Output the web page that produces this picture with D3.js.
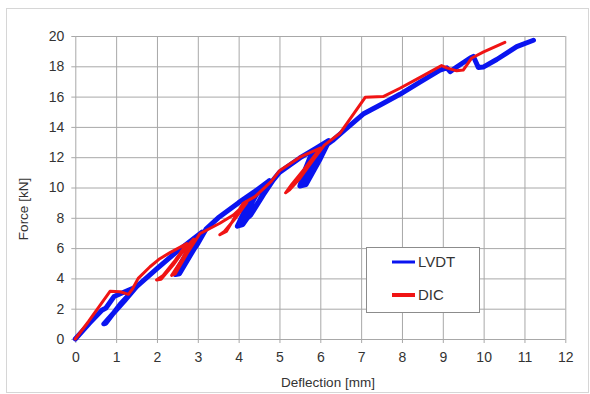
<!DOCTYPE html>
<html><head><meta charset="utf-8">
<script src="https://cdn.jsdelivr.net/npm/d3@7"></script>
<style>body{margin:0;background:#fff}svg{display:block;font-family:"Liberation Sans",Arial,sans-serif}</style>
</head><body><svg id="c" width="590" height="394"></svg>
<script>
const xTicks = [0,1,2,3,4,5,6,7,8,9,10,11,12];
const yTicks = [0,2,4,6,8,10,12,14,16,18,20];
const seriesNames = ["LVDT","DIC"];
const seriesColors = ["#0a14f0","#f01414"];
// LVDT: deflection [mm], force [kN] (with unload/reload loops)
const lvdtX = [0,0.35,0.65,0.75,0.95,1.2,1.5,1.2,0.9,0.7,0.75,1.1,1.5,2.0,2.5,3.1,2.75,2.6,2.45,2.55,2.9,3.1,2.8,2.5,2.6,3.0,3.2,3.5,4.0,4.4,4.75,4.3,4.1,3.97,4.1,4.5,4.75,4.45,4.2,4.05,4.3,4.6,4.85,5.0,5.5,5.9,6.2,5.75,5.6,5.5,5.65,6.0,6.2,5.95,5.7,5.6,5.85,6.1,6.3,6.6,7.05,7.5,7.95,8.44,8.93,9.1,9.18,9.34,9.67,9.75,9.87,9.99,10.32,10.81,11.22];
const lvdtY = [0,1.05,1.9,2.05,2.8,3.1,3.45,2.5,1.6,1.0,1.05,2.3,3.45,4.65,5.8,7.05,5.6,4.9,4.25,4.3,5.9,7.0,6.0,4.6,4.7,6.3,7.25,8.0,9.0,9.75,10.45,9.4,8.2,7.45,7.55,9.1,10.4,9.6,8.4,7.6,8.2,9.5,10.5,11.0,11.95,12.6,13.1,12.0,11.0,10.1,10.2,11.9,13.0,12.4,11.2,10.4,11.5,12.7,13.1,13.8,14.85,15.5,16.15,16.95,17.75,17.9,17.65,17.95,18.55,18.65,17.92,17.95,18.45,19.3,19.72];
// DIC
const dicX = [0,0.32,0.85,1.1,1.3,1.4,1.54,1.83,2.07,2.32,2.73,2.45,2.15,1.99,2.1,2.4,2.7,2.9,2.6,2.36,2.45,2.75,3.05,3.54,3.87,4.2,3.9,3.65,3.54,3.7,4.11,4.4,4.8,5.0,5.5,6.0,5.6,5.3,5.15,5.25,5.5,5.85,6.1,6.48,7.1,7.54,7.95,8.5,8.97,9.1,9.34,9.5,9.71,10.0,10.52];
const dicY = [0,1.14,3.15,3.12,2.95,3.3,4.0,4.77,5.3,5.7,6.3,5.2,4.2,3.9,3.95,4.9,6.0,6.6,5.2,4.2,4.3,5.7,6.95,7.64,8.18,9.0,7.9,7.1,6.88,7.1,8.96,9.4,10.4,11.1,12.0,12.6,11.2,10.2,9.65,9.85,10.6,11.9,12.8,13.58,15.95,16.0,16.55,17.35,18.05,17.9,17.7,17.75,18.55,18.95,19.58];

const svg = d3.select("#c");
const x = d3.scaleLinear().domain([0,12]).range([75.3,565.3]);
const y = d3.scaleLinear().domain([0,20]).range([339,36]);
const gridCol = "#a8a8a8", txtCol = "#333";

svg.append("rect").attr("x",6.5).attr("y",8.5).attr("width",582).attr("height",384)
  .attr("fill","#fff").attr("stroke","#d6d6d6");

// grid
const gx = svg.append("g").attr("transform",`translate(0,${y(0)})`)
  .call(d3.axisBottom(x).tickValues(xTicks).tickSize(-(y(0)-y(20))).tickFormat(""));
gx.selectAll("line").attr("stroke",gridCol);
gx.select(".domain").remove();
const gy = svg.append("g").attr("transform",`translate(${x(0)},0)`)
  .call(d3.axisLeft(y).tickValues(yTicks).tickSize(-(x(12)-x(0))).tickFormat(""));
gy.selectAll("line").attr("stroke",gridCol);
gy.select(".domain").remove();

// axes with small outward ticks and labels
const ax = svg.append("g").attr("transform",`translate(0,${y(0)})`)
  .call(d3.axisBottom(x).tickValues(xTicks).tickSize(4).tickPadding(9).tickFormat(d3.format("d")));
ax.select(".domain").remove();
ax.selectAll("line").attr("stroke",gridCol);
ax.selectAll("text").attr("fill",txtCol).style("font-size","14px");
const ay = svg.append("g").attr("transform",`translate(${x(0)},0)`)
  .call(d3.axisLeft(y).tickValues(yTicks).tickSize(4).tickPadding(7).tickFormat(d3.format("d")));
ay.select(".domain").remove();
ay.selectAll("line").attr("stroke",gridCol);
ay.selectAll("text").attr("fill",txtCol).style("font-size","14px");

// axis titles
svg.append("text").attr("x",328).attr("y",387).attr("text-anchor","middle")
  .attr("fill",txtCol).style("font-size","13.5px").text("Deflection [mm]");
svg.append("text").attr("transform","translate(28,209) rotate(-90)").attr("text-anchor","middle")
  .attr("fill",txtCol).style("font-size","13.5px").text("Force [kN]");

// lines
const line = d3.line().x(d=>x(d[0])).y(d=>y(d[1])).curve(d3.curveLinear);
const lvdt = lvdtX.map((v,i)=>[v,lvdtY[i]]);
const dic = dicX.map((v,i)=>[v,dicY[i]]);
svg.append("path").datum(lvdt).attr("d",line).attr("fill","none")
  .attr("stroke",seriesColors[0]).attr("stroke-width",5).attr("stroke-linejoin","round").attr("stroke-linecap","round");
svg.append("path").datum(dic).attr("d",line).attr("fill","none")
  .attr("stroke",seriesColors[1]).attr("stroke-width",3).attr("stroke-linejoin","round").attr("stroke-linecap","round");

// legend
const lg = svg.append("g");
lg.append("rect").attr("x",366.5).attr("y",247.5).attr("width",113).attr("height",65)
  .attr("fill","#fff").attr("stroke","#8c8c8c");
seriesNames.forEach((n,i)=>{
  const yy = 262 + i*33;
  lg.append("line").attr("x1",392).attr("x2",415).attr("y1",yy).attr("y2",yy)
    .attr("stroke",seriesColors[i]).attr("stroke-width",i===0?3:4);
  lg.append("text").attr("x",418).attr("y",yy+5).attr("fill",txtCol).style("font-size","15px").text(n);
});
</script></body></html>
